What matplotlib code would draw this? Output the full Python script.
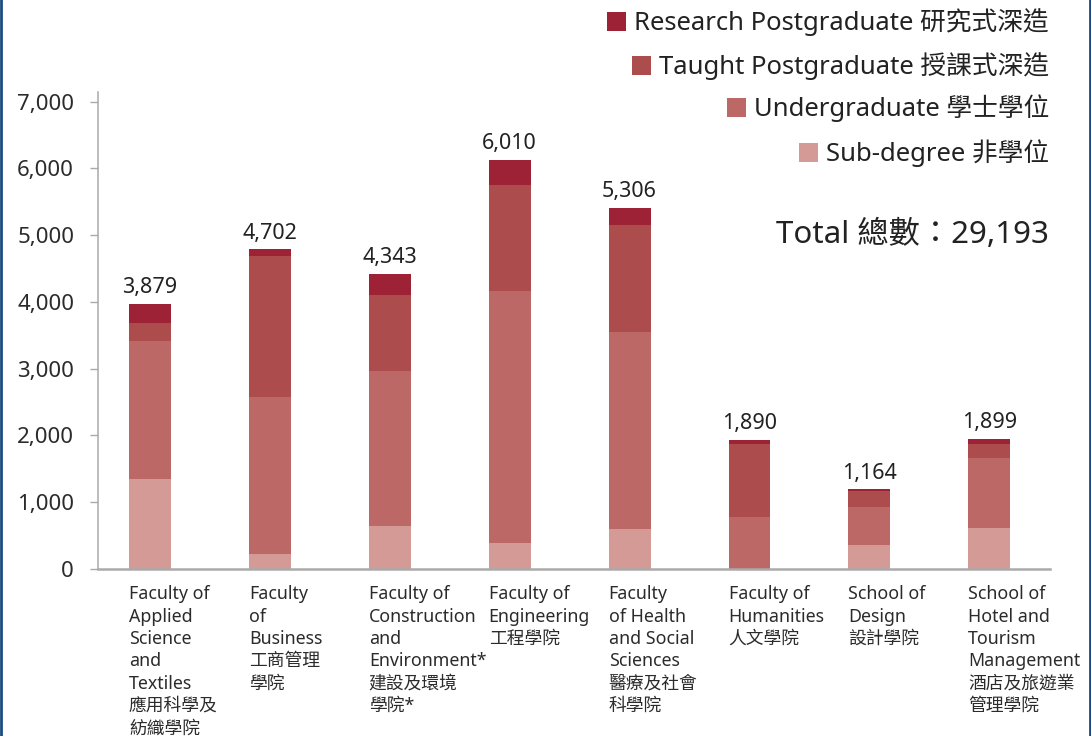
import matplotlib
matplotlib.use('Agg')
import matplotlib.pyplot as plt
import numpy as np
from matplotlib.patches import Rectangle
from matplotlib.lines import Line2D

plt.rcParams['font.family'] = ['Noto Sans', 'Noto Sans CJK TC', 'DejaVu Sans']

faculties = [
    'Faculty of\nApplied\nScience\nand\nTextiles\n應用科學及\n紡織學院',
    'Faculty\nof\nBusiness\n工商管理\n學院',
    'Faculty of\nConstruction\nand\nEnvironment*\n建設及環境\n學院*',
    'Faculty of\nEngineering\n工程學院',
    'Faculty\nof Health\nand Social\nSciences\n醫療及社會\n科學院',
    'Faculty of\nHumanities\n人文學院',
    'School of\nDesign\n設計學院',
    'School of\nHotel and\nTourism\nManagement\n酒店及旅遊業\n管理學院',
]
sub_degree = [1353, 220, 649, 394, 599, 0, 355, 614]
undergrad = [2062, 2356, 2321, 3775, 2951, 779, 578, 1053]
taught_pg = [275, 2117, 1139, 1583, 1598, 1098, 231, 205]
research_pg = [280, 96, 314, 374, 259, 55, 30, 80]
totals = [3879, 4702, 4343, 6010, 5306, 1890, 1164, 1899]
grand_total = 29193

series_names = ['Research Postgraduate 研究式深造', 'Taught Postgraduate 授課式深造',
                'Undergraduate 學士學位', 'Sub-degree 非學位']
colors = ['#9d2235', '#ad4c4d', '#bc6866', '#d49a95']

W, H = 1091, 736
fig = plt.figure(figsize=(W / 100, H / 100), dpi=100)
ax = fig.add_axes([97.7 / W, 1 - 569 / H, (1050 - 97.7) / W, (569 - 92) / H])

x = np.arange(len(faculties))
bw = 0.35
layers = [sub_degree, undergrad, taught_pg, research_pg]
layer_colors = colors[::-1]
bottom = np.zeros(len(x))
for vals, c in zip(layers, layer_colors):
    ax.bar(x, vals, bw, bottom=bottom, color=c, linewidth=0)
    bottom += np.array(vals)

for xi, top, t in zip(x, bottom, totals):
    ax.annotate(f'{t:,}', (xi, top), xytext=(0, 4), textcoords='offset points',
                ha='center', va='bottom', fontsize=15.5, color='#222222')

for xi, lab in zip(x, faculties):
    ax.text(xi - bw / 2, -0.034, lab, transform=ax.get_xaxis_transform(),
            ha='left', va='top', fontsize=12.8, color='#2b2b2b', linespacing=1.31)

ax.set_xlim(-0.436, 7.506)
ax.set_ylim(0, 7145)
ax.set_yticks(np.arange(0, 7001, 1000))
ax.set_yticklabels([f'{v:,}' for v in range(0, 7001, 1000)])
ax.set_xticks([])
ax.tick_params(axis='y', length=6, width=1, color='#aaaaaa', pad=11,
               labelsize=16, labelcolor='#2b2b2b')
for s in ['top', 'right']:
    ax.spines[s].set_visible(False)
ax.spines['left'].set_color('#aaaaaa')
ax.spines['left'].set_linewidth(1.1)
ax.spines['bottom'].set_color('#aaaaaa')
ax.spines['bottom'].set_linewidth(1.8)

# legend, each row right aligned
row_y = [22, 66, 108, 153]
legend_texts = []
for name, yy in zip(series_names, row_y):
    t = fig.text(1049 / W, 1 - yy / H, name, ha='right', va='center',
                 fontsize=18.5, color='#222222')
    legend_texts.append(t)

fig.text(1049 / W, 1 - 235 / H, f'Total 總數：{grand_total:,}', ha='right',
         va='center', fontsize=22.5, color='#222222')

fig.canvas.draw()
renderer = fig.canvas.get_renderer()
sq = 19
for t, c, yy in zip(legend_texts, colors, row_y):
    bb = t.get_window_extent(renderer)
    x0 = bb.x0 - 8 - sq
    y0 = (H - yy) - sq / 2 + 1
    fig.add_artist(Rectangle((x0 / W, y0 / H), sq / W, sq / H,
                             transform=fig.transFigure, color=c, linewidth=0))

# blue frame edges
fig.add_artist(Line2D([1 / W, 1 / W], [0, 1], transform=fig.transFigure,
                      color='#1b4a82', linewidth=2))
fig.add_artist(Line2D([1 - 1.5 / W, 1 - 1.5 / W], [0, 1], transform=fig.transFigure,
                      color='#1b4a82', linewidth=2))

fig.savefig('out.png', dpi=100)
